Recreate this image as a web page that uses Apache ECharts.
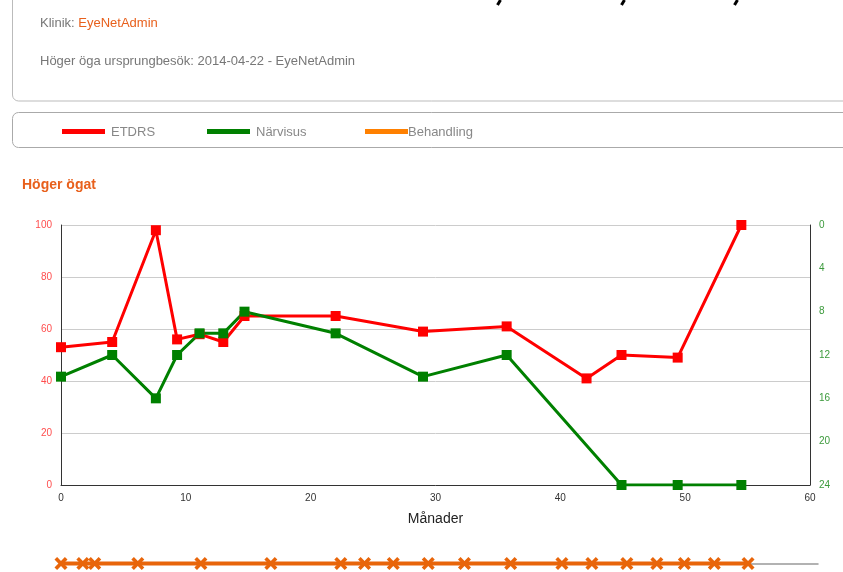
<!DOCTYPE html>
<html>
<head>
<meta charset="utf-8">
<script src="https://cdn.jsdelivr.net/npm/echarts@6/dist/echarts.min.js"></script>
<style>
  html, body { margin: 0; padding: 0; background: #fff; }
  #chart { width: 843px; height: 572px; }
</style>
</head>
<body>
<div id="chart"></div>
<script>
// ETDRS (left axis) and Närvisus (right axis, inverted) per month
const etdrsMonths = [0, 4.1, 7.6, 9.3, 11.1, 13, 14.7, 22, 29, 35.7, 42.1, 44.9, 49.4, 54.5];
const etdrs = [53, 55, 98, 56, 58, 55, 65, 65, 59, 61, 41, 50, 49, 100];
const narMonths = [0, 4.1, 7.6, 9.3, 11.1, 13, 14.7, 22, 29, 35.7, 44.9, 49.4, 54.5];
const narvisus = [14, 12, 16, 12, 10, 10, 8, 10, 14, 12, 24, 24, 24];
// treatment occasions (months)
const behandling = [0, 1.75, 2.7, 6.15, 11.2, 16.8, 22.4, 24.3, 26.6, 29.4, 32.3, 36, 40.1, 42.5, 45.3, 47.7, 49.9, 52.3, 55];

const leftTicks = [0, 20, 40, 60, 80, 100];
const rightTicks = [0, 4, 8, 12, 16, 20, 24];
const xTicks = [0, 10, 20, 30, 40, 50, 60];

const font = 'Liberation Sans, Arial, sans-serif';
const orange = '#e8601c';
const xMark = 'path://M2,0 L5,3 L8,0 L10,2 L7,5 L10,8 L8,10 L5,7 L2,10 L0,8 L3,5 L0,2 Z';

const zip = (xs, ys) => xs.map((x, i) => [x, ys[i]]);

const chart = echarts.init(document.getElementById('chart'));

const option = {
  animation: false,
  textStyle: { fontFamily: font },
  graphic: [
    // header box
    { type: 'rect', shape: { x: 12.5, y: -10, width: 850, height: 111, r: 6 },
      style: { fill: 'none', stroke: '#bbb', lineWidth: 1 } },
    { type: 'line', shape: { x1: 500.5, y1: 0, x2: 497.5, y2: 5 }, style: { stroke: '#000', lineWidth: 3 } },
    { type: 'line', shape: { x1: 624.5, y1: 0, x2: 621.5, y2: 5 }, style: { stroke: '#000', lineWidth: 3 } },
    { type: 'line', shape: { x1: 737.5, y1: 0, x2: 734.5, y2: 5 }, style: { stroke: '#000', lineWidth: 3 } },
    { type: 'text', left: 40, top: 17,
      style: { text: '{g|Klinik: }{o|EyeNetAdmin}', font: '13px ' + font,
        rich: { g: { fill: '#777', font: '13px ' + font }, o: { fill: orange, font: '13px ' + font } } } },
    { type: 'text', left: 40, top: 55,
      style: { text: 'Höger öga ursprungbesök: 2014-04-22 - EyeNetAdmin', fill: '#777', font: '13px ' + font } },
    // legend box
    { type: 'rect', shape: { x: 12.5, y: 112.5, width: 850, height: 35, r: 6 },
      style: { fill: 'none', stroke: '#aaa', lineWidth: 1 } },
    { type: 'rect', shape: { x: 62, y: 129, width: 43, height: 5 }, style: { fill: '#ff0000' } },
    { type: 'text', left: 111, top: 126, style: { text: 'ETDRS', fill: '#888', font: '13px ' + font } },
    { type: 'rect', shape: { x: 207, y: 129, width: 43, height: 5 }, style: { fill: '#008000' } },
    { type: 'text', left: 256, top: 126, style: { text: 'Närvisus', fill: '#888', font: '13px ' + font } },
    { type: 'rect', shape: { x: 365, y: 129, width: 43, height: 5 }, style: { fill: '#ff8000' } },
    { type: 'text', left: 408, top: 126, style: { text: 'Behandling', fill: '#888', font: '13px ' + font } },
    // eye title
    { type: 'text', left: 22, top: 178, style: { text: 'Höger ögat', fill: orange, font: 'bold 14px ' + font } }
  ],
  grid: [
    { left: 61, right: 33, top: 225, bottom: 87 },
    { left: 61, right: 25, top: 555, height: 20 }
  ],
  xAxis: [
    {
      gridIndex: 0, type: 'value', min: xTicks[0], max: xTicks[xTicks.length - 1], interval: 10,
      name: 'Månader', nameLocation: 'middle', nameGap: 27,
      nameTextStyle: { color: '#222', fontSize: 14, fontFamily: font },
      axisLine: { show: true, onZero: false, lineStyle: { color: '#333', width: 1 } },
      axisTick: { show: false },
      axisLabel: { color: '#333', fontSize: 10, margin: 8 },
      splitLine: { show: false }
    },
    {
      gridIndex: 1, type: 'value', min: 0, max: 60.6,
      axisLine: { show: true, onZero: true, lineStyle: { color: '#999', width: 1.5 } },
      axisTick: { show: false }, axisLabel: { show: false }, splitLine: { show: false }
    }
  ],
  yAxis: [
    {
      gridIndex: 0, type: 'value', min: leftTicks[0], max: leftTicks[leftTicks.length - 1], interval: 20,
      axisLine: { show: true, lineStyle: { color: '#333', width: 1 } },
      axisTick: { show: false },
      axisLabel: { color: '#ff4d4d', fontSize: 10, margin: 9 },
      splitLine: { show: true, lineStyle: { color: '#ccc', width: 1 } }
    },
    {
      gridIndex: 0, type: 'value', position: 'right', inverse: true,
      min: rightTicks[0], max: rightTicks[rightTicks.length - 1], interval: 4,
      axisLine: { show: true, lineStyle: { color: '#333', width: 1 } },
      axisTick: { show: false },
      axisLabel: { color: '#3c9a3c', fontSize: 10, margin: 9 },
      splitLine: { show: false }
    },
    {
      gridIndex: 1, type: 'value', min: -1, max: 1, show: false
    }
  ],
  series: [
    {
      name: 'ETDRS', type: 'line', xAxisIndex: 0, yAxisIndex: 0,
      data: zip(etdrsMonths, etdrs),
      symbol: 'rect', symbolSize: 10,
      lineStyle: { color: '#ff0000', width: 3 },
      itemStyle: { color: '#ff0000' }
    },
    {
      name: 'Närvisus', type: 'line', xAxisIndex: 0, yAxisIndex: 1,
      data: zip(narMonths, narvisus),
      symbol: 'rect', symbolSize: 10,
      lineStyle: { color: '#008000', width: 3 },
      itemStyle: { color: '#008000' }
    },
    {
      name: 'Behandling', type: 'line', xAxisIndex: 1, yAxisIndex: 2,
      data: behandling.map(m => [m, 0]),
      symbol: xMark, symbolSize: 13,
      lineStyle: { color: '#e8650a', width: 4 },
      itemStyle: { color: '#e8650a' }
    }
  ]
};

chart.setOption(option);
</script>
</body>
</html>
